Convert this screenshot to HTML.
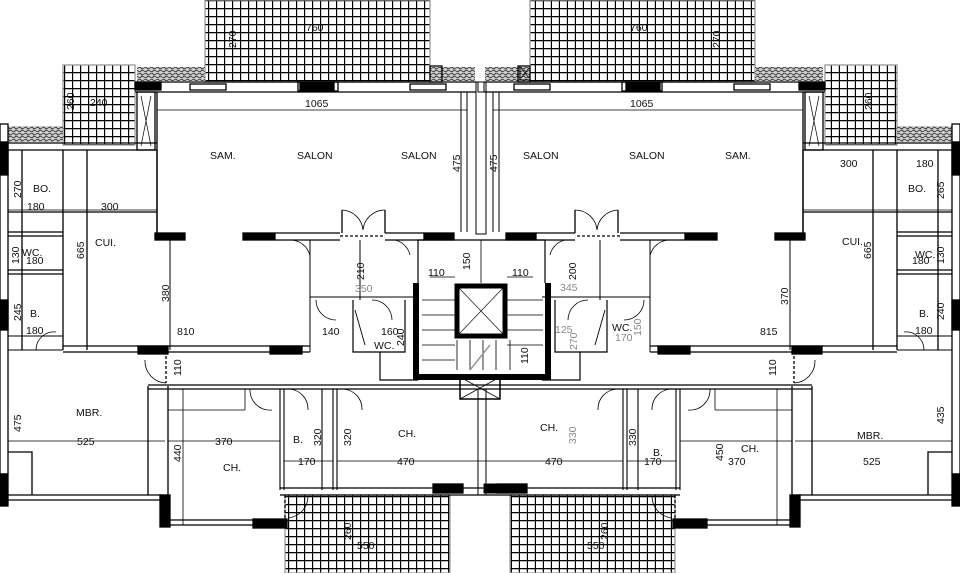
<!DOCTYPE html>
<html><head><meta charset="utf-8"><style>
html,body{margin:0;padding:0;background:#fff;}
svg{display:block}
text{font-family:"Liberation Sans",sans-serif;font-size:10.5px;fill:#111}
.g{fill:#888}
</style></head><body>
<svg width="960" height="573" viewBox="0 0 960 573" xmlns="http://www.w3.org/2000/svg">
<defs>
<pattern id="grid" width="8" height="8" patternUnits="userSpaceOnUse">
<rect width="8" height="8" fill="#fff"/>
<path d="M0 0.6H8M0.6 0V8" stroke="#000" stroke-width="1.2"/>
</pattern>
<pattern id="grav" width="6" height="6" patternUnits="userSpaceOnUse">
<rect width="6" height="6" fill="#cfcfcf"/>
<path d="M0 2l2 -1 2 2 2-1M0 5l2 1 2-2 2 1" stroke="#333" stroke-width="0.9" fill="none"/>
</pattern>
<g id="L" stroke="#000" fill="none" stroke-width="1.3">
<rect x="205" y="0" width="225" height="82" fill="url(#grid)" stroke="#999"/>
<rect x="63" y="65" width="72" height="80" fill="url(#grid)" stroke="#999"/>
<rect x="137" y="67" width="68" height="14" fill="url(#grav)" stroke="none"/>
<rect x="8" y="126" width="55" height="16" fill="url(#grav)" stroke="none"/>
<rect x="430" y="67" width="45" height="14" fill="url(#grav)" stroke="none"/>
<rect x="285" y="495" width="165" height="78" fill="url(#grid)" stroke="#999"/>
<path d="M135 82H476M135 92H476M157 92V240"/>
<rect x="135" y="82" width="26" height="8" fill="#000"/>
<rect x="300" y="82" width="34" height="8" fill="#000"/>
<rect x="190" y="84" width="36" height="6"/><rect x="410" y="84" width="36" height="6"/>
<rect x="298" y="82" width="40" height="9"/>
<rect x="430" y="66" width="12" height="16"/>
<rect x="137" y="92" width="18" height="58"/><path d="M141 96L151 146M151 96L141 146" stroke-width="0.7"/>
<path d="M461 92V232M467 92V232" stroke-width="1"/>
<path d="M157 110H467" stroke-width="0.8"/>
<rect x="0" y="124" width="8" height="350"/>
<rect x="0" y="142" width="8" height="33" fill="#000"/>
<rect x="0" y="300" width="8" height="30" fill="#000"/>
<rect x="0" y="474" width="8" height="32" fill="#000"/>
<path d="M8 143H157M8 150H157M22 150V350M63 150V350M87 150V350M8 212H157M8 232H63M8 236H63M8 270H63M8 274H63M157 150V240"/>
<path d="M8 210H157" stroke-width="0.8"/>
<rect x="155" y="233" width="30" height="7" fill="#000"/>
<rect x="243" y="233" width="32" height="7" fill="#000"/>
<path d="M275 233H340M275 240H340M385 233H424M385 240H424"/>
<rect x="424" y="233" width="30" height="7" fill="#000"/>
<path d="M340 236H385" stroke-dasharray="3 2"/>
<path d="M342 233V210M385 233V210"/>
<path d="M342 210A22 22 0 0 1 363 230A22 22 0 0 1 385 210" stroke-width="0.8"/>
<path d="M170 240V350M310 240V352M360 240V300M310 297H418" stroke-width="1"/>
<path d="M310 256A20 20 0 0 0 290 240" stroke-width="0.8"/>
<path d="M410 255A20 20 0 0 0 395 240" stroke-width="0.8"/>
<path d="M63 346H310M63 352H310"/>
<rect x="138" y="346" width="30" height="8" fill="#000"/>
<rect x="270" y="346" width="32" height="8" fill="#000"/>
<path d="M8 350H63M8 336H63" stroke-width="0.9"/>
<path d="M36 350A18 18 0 0 1 56 332" stroke-width="0.8"/>
<path d="M353 300V352H380V380H418M380 352H405V300" stroke-width="1.2"/>
<path d="M355 310L365 345" stroke-width="0.9"/>
<path d="M316 300A20 20 0 0 0 336 320M372 300A20 20 0 0 1 392 320" stroke-width="0.8"/>
<path d="M8 495H165M8 500H165M8 452H32V495M148 386V495M168 386V525"/>
<rect x="160" y="495" width="10" height="32" fill="#000"/>
<path d="M148 385H480M148 389H480"/>
<path d="M166 356V383" stroke-dasharray="3 2"/>
<path d="M145 360A22 22 0 0 0 166 383" stroke-width="0.8"/>
<path d="M168 410H245M245 389V410M183 389V525" stroke-width="0.8"/>
<path d="M168 520H285M168 525H285"/>
<rect x="253" y="519" width="34" height="9" fill="#000"/>
<path d="M280 389V490M284 389V490M333 389V490M337 389V490M322 389V490" stroke-width="1.1"/>
<path d="M280 488H480M280 495H480"/>
<rect x="433" y="484" width="30" height="9" fill="#000"/>
<path d="M250 389A20 20 0 0 0 272 410M288 389A20 20 0 0 1 308 410M342 389A20 20 0 0 1 362 410" stroke-width="0.8"/>
<path d="M8 441H165M168 441H280M284 461H333M337 461H480" stroke-width="0.8"/>
<path d="M285 495V520" stroke-dasharray="3 2"/>
<path d="M288 518A22 22 0 0 0 308 496" stroke-width="0.8"/>
</g>
</defs>
<use href="#L"/>
<use href="#L" transform="matrix(-1 0 0 1 960 0)"/>
<g stroke="#000" fill="none">
<rect x="476" y="82" width="10" height="152" stroke-width="1"/>
<rect x="478" y="82" width="6" height="10" stroke-width="1"/>
<rect x="520" y="66" width="10" height="14" stroke-width="1"/>
<path d="M521 68L529 78M529 68L521 78" stroke-width="0.7"/>
<path d="M418 240V283M545 240V283M418 240H545" stroke-width="1.2"/>
<path d="M416 283V377H548V283" stroke-width="6"/>
<rect x="457" y="286" width="48" height="50" stroke-width="5"/>
<path d="M459 288L503 334M503 288L459 334" stroke-width="0.6"/>
<path d="M422 300H455M422 315H455M422 330H455M422 345H455M422 360H455M507 300H543M507 315H543M507 330H543M507 345H543M457 340V370M470 340V370M483 340V370M496 340V370M510 340V370" stroke-width="0.8"/>
<path d="M470 370L490 345" stroke="#999" stroke-width="1.5"/>
<rect x="460" y="377" width="40" height="22" stroke-width="1.5"/>
<path d="M460 377L500 399M500 377L460 399" stroke-width="0.8"/>
<path d="M481 240V283" stroke-width="0.8"/>
<path d="M430 277H455M507 277H533" stroke-width="0.8"/>
<path d="M478 389V495M486 389V495" stroke-width="1"/>
<rect x="484" y="484" width="30" height="9" fill="#000"/>
</g>
<text x="210" y="159">SAM.</text><text x="297" y="159">SALON</text><text x="401" y="159">SALON</text>
<text x="523" y="159">SALON</text><text x="629" y="159">SALON</text><text x="725" y="159">SAM.</text>
<text x="305" y="107">1065</text><text x="630" y="107">1065</text>
<text x="306" y="31">760</text><text x="630" y="31">760</text>
<text x="90" y="106">240</text>
<text x="33" y="192">BO.</text><text x="908" y="192">BO.</text>
<text x="27" y="210">180</text><text x="101" y="210">300</text><text x="840" y="167">300</text><text x="916" y="167">180</text>
<text x="95" y="246">CUI.</text><text x="842" y="245">CUI.</text>
<text x="22" y="256">WC.</text><text x="915" y="258">WC.</text>
<text x="26" y="264">180</text><text x="912" y="264">180</text>
<text x="30" y="317">B.</text><text x="919" y="317">B.</text>
<text x="26" y="334">180</text><text x="915" y="334">180</text>
<text x="177" y="335">810</text><text x="760" y="335">815</text>
<text x="322" y="335">140</text><text x="381" y="335">160</text><text x="374" y="349">WC.</text>
<text x="428" y="276">110</text><text x="512" y="276">110</text>
<text x="355" y="292" class="g">350</text><text x="560" y="291" class="g">345</text>
<text x="612" y="331">WC.</text><text x="615" y="341" class="g">170</text><text x="555" y="333" class="g">125</text>
<text x="76" y="416">MBR.</text><text x="857" y="439">MBR.</text>
<text x="77" y="445">525</text><text x="863" y="465">525</text>
<text x="215" y="445">370</text><text x="728" y="465">370</text>
<text x="223" y="471">CH.</text><text x="398" y="437">CH.</text><text x="540" y="431">CH.</text><text x="741" y="452">CH.</text>
<text x="293" y="443">B.</text><text x="653" y="456">B.</text>
<text x="298" y="465">170</text><text x="397" y="465">470</text><text x="545" y="465">470</text><text x="644" y="465">170</text>
<text x="357" y="549">550</text><text x="587" y="549">550</text>
<g>
<text transform="translate(236,48) rotate(-90)">270</text>
<text transform="translate(720,48) rotate(-90)">270</text>
<text transform="translate(74,110) rotate(-90)">260</text>
<text transform="translate(872,110) rotate(-90)">260</text>
<text transform="translate(460,172) rotate(-90)">475</text>
<text transform="translate(497,172) rotate(-90)">475</text>
<text transform="translate(21,198) rotate(-90)">270</text>
<text transform="translate(944,199) rotate(-90)">265</text>
<text transform="translate(84,259) rotate(-90)">665</text>
<text transform="translate(871,259) rotate(-90)">665</text>
<text transform="translate(19,264) rotate(-90)">130</text>
<text transform="translate(944,264) rotate(-90)">130</text>
<text transform="translate(21,321) rotate(-90)">245</text>
<text transform="translate(944,320) rotate(-90)">240</text>
<text transform="translate(169,302) rotate(-90)">380</text>
<text transform="translate(788,305) rotate(-90)">370</text>
<text transform="translate(364,280) rotate(-90)">210</text>
<text transform="translate(576,280) rotate(-90)">200</text>
<text transform="translate(470,270) rotate(-90)">150</text>
<text transform="translate(404,346) rotate(-90)">240</text>
<text transform="translate(641,336) rotate(-90)" class="g">150</text>
<text transform="translate(577,350) rotate(-90)" class="g">270</text>
<text transform="translate(528,364) rotate(-90)">110</text>
<text transform="translate(181,376) rotate(-90)">110</text>
<text transform="translate(776,376) rotate(-90)">110</text>
<text transform="translate(21,432) rotate(-90)">475</text>
<text transform="translate(944,424) rotate(-90)">435</text>
<text transform="translate(181,462) rotate(-90)">440</text>
<text transform="translate(321,446) rotate(-90)">320</text>
<text transform="translate(351,446) rotate(-90)">320</text>
<text transform="translate(576,444) rotate(-90)" class="g">330</text>
<text transform="translate(636,446) rotate(-90)">330</text>
<text transform="translate(723,461) rotate(-90)">450</text>
<text transform="translate(351,540) rotate(-90)">260</text>
<text transform="translate(608,540) rotate(-90)">260</text>
</g>
</svg>
</body></html>
